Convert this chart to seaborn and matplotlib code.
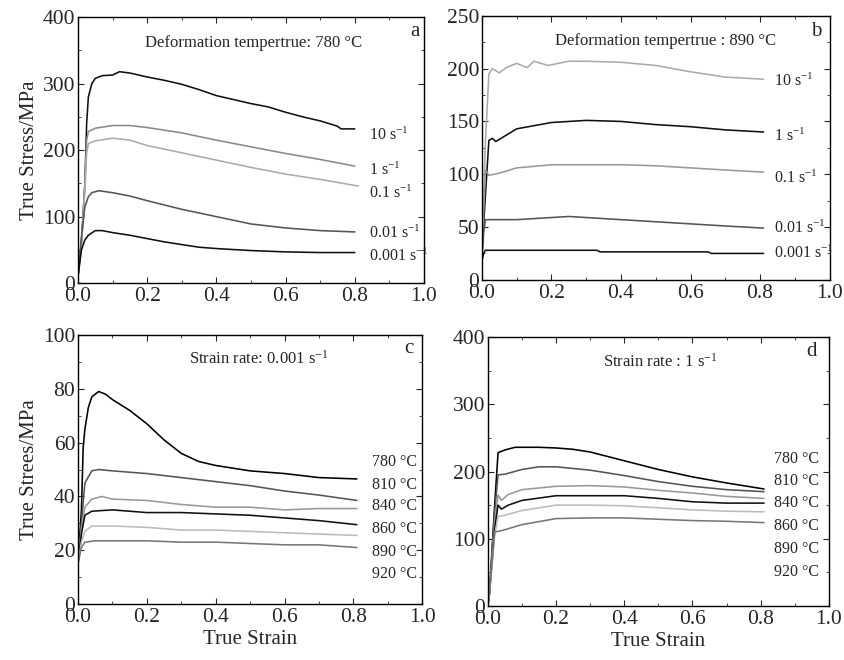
"""Flow stress curves, four panels"""

import matplotlib
matplotlib.use("Agg")

import matplotlib.pyplot as plt
import seaborn as sns
from matplotlib.ticker import MultipleLocator, FormatStrFormatter

sns.set_style("ticks")
plt.rcParams["font.family"] = ["Liberation Serif", "DejaVu Serif"]
plt.rcParams["mathtext.fontset"] = "custom"
plt.rcParams["mathtext.rm"] = "Liberation Serif"
plt.rcParams["mathtext.it"] = "Liberation Serif:italic"

# ---- panel a: 780 C, different strain rates
a_10_x = [0, 0.01, 0.02, 0.025, 0.03, 0.04, 0.05, 0.07, 0.1, 0.12, 0.15, 0.2, 0.25, 0.3, 0.35,
          0.4, 0.45, 0.5, 0.55, 0.6, 0.65, 0.7, 0.75, 0.76, 0.8]
a_10_y = [10, 60, 150, 240, 280, 300, 308, 312, 313, 318, 316, 310, 305, 299, 291,
          282, 276, 270, 265, 257, 250, 244, 236, 232, 232]
a_1_x = [0, 0.01, 0.02, 0.025, 0.03, 0.05, 0.1, 0.15, 0.2, 0.3, 0.4, 0.5, 0.6, 0.7, 0.8]
a_1_y = [10, 60, 150, 215, 228, 233, 237, 237, 234, 226, 215, 205, 195, 186, 176]
a_01_x = [0, 0.01, 0.02, 0.025, 0.03, 0.05, 0.1, 0.15, 0.2, 0.3, 0.4, 0.5, 0.6, 0.7, 0.81]
a_01_y = [10, 55, 140, 195, 210, 214, 218, 215, 207, 196, 185, 174, 164, 156, 146]
a_001_x = [0, 0.01, 0.02, 0.03, 0.04, 0.06, 0.1, 0.15, 0.2, 0.3, 0.4, 0.5, 0.6, 0.7, 0.8]
a_001_y = [10, 70, 115, 130, 136, 139, 136, 131, 124, 111, 100, 89, 83, 79, 77]
a_0001_x = [0, 0.01, 0.02, 0.03, 0.05, 0.07, 0.1, 0.15, 0.2, 0.25, 0.3, 0.35, 0.4, 0.5,
            0.6, 0.7, 0.8]
a_0001_y = [10, 50, 65, 72, 79, 79, 76, 72, 67, 62, 58, 54, 52, 49, 47, 46, 46]

# ---- panel b: 890 C, different strain rates
b_10_x = [0, 0.01, 0.02, 0.03, 0.05, 0.07, 0.1, 0.13, 0.15, 0.19, 0.25, 0.3, 0.4, 0.5,
          0.6, 0.7, 0.81]
b_10_y = [30, 130, 195, 200, 196, 201, 205, 201, 207, 203, 207, 207, 206, 203, 197, 192, 190]
b_1_x = [0, 0.01, 0.02, 0.03, 0.04, 0.06, 0.1, 0.15, 0.2, 0.3, 0.4, 0.5, 0.6, 0.7, 0.81]
b_1_y = [25, 80, 132, 134, 131, 135, 143, 146, 149, 151, 150, 147, 145, 142, 140]
b_01_x = [0, 0.01, 0.02, 0.05, 0.1, 0.2, 0.3, 0.4, 0.5, 0.6, 0.7, 0.81]
b_01_y = [25, 104, 99, 101, 106, 109, 109, 109, 108, 106, 104, 102]
b_001_x = [0, 0.005, 0.01, 0.1, 0.2, 0.25, 0.3, 0.4, 0.5, 0.6, 0.7, 0.81]
b_001_y = [20, 45, 57, 57, 59, 60, 59, 57, 55, 53, 51, 49]
b_0001_x = [0, 0.005, 0.01, 0.33, 0.34, 0.65, 0.66, 0.81]
b_0001_y = [18, 25, 28, 28, 26.5, 26.5, 25, 25]

# ---- panel c: 0.001 s-1, different temperatures
c_780_x = [0, 0.01, 0.015, 0.02, 0.03, 0.04, 0.06, 0.08, 0.1, 0.15, 0.2, 0.25, 0.3, 0.35,
           0.4, 0.45, 0.5, 0.6, 0.7, 0.81]
c_780_y = [15, 35, 58, 65, 73, 77, 79, 78, 76, 72, 67, 61, 56, 53, 51.5, 50.5, 49.5, 48.5,
           47, 46.5]
c_810_x = [0, 0.01, 0.02, 0.04, 0.06, 0.1, 0.2, 0.3, 0.4, 0.5, 0.6, 0.7, 0.81]
c_810_y = [15, 30, 45, 49.5, 50, 49.5, 48.5, 47, 45.5, 44, 42, 40.5, 38.5]
c_840_x = [0, 0.01, 0.02, 0.04, 0.07, 0.1, 0.2, 0.3, 0.4, 0.5, 0.6, 0.7, 0.81]
c_840_y = [15, 28, 36, 39, 40, 39, 38.5, 37, 36, 36, 35, 35.5, 35.5]
c_860_x = [0, 0.01, 0.02, 0.04, 0.1, 0.2, 0.3, 0.4, 0.5, 0.6, 0.7, 0.81]
c_860_y = [15, 26, 33, 34.5, 35, 34, 34, 33.5, 33, 32, 31, 29.5]
c_890_x = [0, 0.01, 0.02, 0.04, 0.1, 0.2, 0.3, 0.4, 0.5, 0.6, 0.7, 0.81]
c_890_y = [15, 23, 27, 29, 29, 28.5, 27.5, 27.5, 27, 26.5, 26, 25.5]
c_920_x = [0, 0.01, 0.02, 0.05, 0.1, 0.2, 0.3, 0.4, 0.5, 0.6, 0.7, 0.81]
c_920_y = [15, 21, 23, 23.5, 23.5, 23.5, 23, 23, 22.5, 22, 22, 21]

# ---- panel d: 1 s-1, different temperatures
d_780_x = [0, 0.005, 0.02, 0.03, 0.05, 0.08, 0.15, 0.2, 0.25, 0.3, 0.4, 0.5, 0.6, 0.7, 0.81]
d_780_y = [0, 20, 150, 228, 232, 236, 236, 235, 233, 229, 216, 203, 192, 183, 174]
d_810_x = [0, 0.005, 0.02, 0.03, 0.05, 0.1, 0.15, 0.2, 0.3, 0.4, 0.5, 0.6, 0.7, 0.81]
d_810_y = [0, 20, 140, 195, 196, 203, 207, 207, 202, 194, 185, 178, 173, 170]
d_840_x = [0, 0.005, 0.02, 0.03, 0.04, 0.06, 0.1, 0.2, 0.3, 0.4, 0.5, 0.6, 0.7, 0.81]
d_840_y = [0, 20, 125, 165, 157, 166, 173, 178, 179, 177, 172, 168, 163, 160]
d_860_x = [0, 0.005, 0.02, 0.03, 0.04, 0.06, 0.1, 0.2, 0.3, 0.4, 0.5, 0.6, 0.7, 0.81]
d_860_y = [0, 20, 115, 150, 144, 150, 157, 164, 164, 164, 160, 155, 153, 153]
d_890_x = [0, 0.005, 0.02, 0.03, 0.05, 0.1, 0.2, 0.3, 0.4, 0.5, 0.6, 0.7, 0.81]
d_890_y = [0, 20, 105, 133, 135, 142, 150, 150, 149, 146, 143, 141, 140]
d_920_x = [0, 0.005, 0.02, 0.04, 0.1, 0.2, 0.3, 0.4, 0.5, 0.6, 0.7, 0.81]
d_920_y = [0, 20, 110, 112, 121, 130, 131, 131, 129, 127, 126, 124]

rate_labels = ["10 s$^{-1}$", "1 s$^{-1}$", "0.1 s$^{-1}$", "0.01 s$^{-1}$", "0.001 s$^{-1}$"]
temp_labels = ["780 °C", "810 °C", "840 °C", "860 °C", "890 °C", "920 °C"]

a_label_y = [222, 170, 135, 75, 40]
b_label_y = [188, 136, 96, 49, 25]
c_label_y = [52.7, 44.3, 36.3, 27.8, 19.5, 11]
d_label_y = [219, 186, 152.5, 119, 85, 51]

panels = [
    dict(rect=[0.0924, 0.571, 0.41, 0.403], ymax=400, ymaj=100, letter="a",
         title="Deformation tempertrue: 780 °C", title_xy=(0.506, 361), letter_xy=(0.975, 378),
         curves=[(a_10_x, a_10_y, "#111111"), (a_1_x, a_1_y, "#8a8a8a"),
                 (a_01_x, a_01_y, "#ababab"), (a_001_x, a_001_y, "#555555"),
                 (a_0001_x, a_0001_y, "#111111")],
         labels=rate_labels, label_x=0.84, label_y=a_label_y,
         ylabel="True Stress/MPa", xlabel=None),
    dict(rect=[0.571, 0.576, 0.412, 0.400], ymax=250, ymaj=50, letter="b",
         title="Deformation tempertrue : 890 °C", title_xy=(0.528, 226), letter_xy=(0.96, 235),
         curves=[(b_10_x, b_10_y, "#aaaaaa"), (b_1_x, b_1_y, "#111111"),
                 (b_01_x, b_01_y, "#999999"), (b_001_x, b_001_y, "#555555"),
                 (b_0001_x, b_0001_y, "#111111")],
         labels=rate_labels, label_x=0.84, label_y=b_label_y,
         ylabel=None, xlabel=None),
    dict(rect=[0.0924, 0.0848, 0.408, 0.4076], ymax=100, ymaj=20, letter="c",
         title="Strain rate: 0.001 s$^{-1}$", title_xy=(0.524, 91), letter_xy=(0.96, 95),
         curves=[(c_780_x, c_780_y, "#000000"), (c_810_x, c_810_y, "#555555"),
                 (c_840_x, c_840_y, "#999999"), (c_860_x, c_860_y, "#111111"),
                 (c_890_x, c_890_y, "#bbbbbb"), (c_920_x, c_920_y, "#777777")],
         labels=temp_labels, label_x=0.853, label_y=c_label_y,
         ylabel="True Strees/MPa", xlabel="True Strain"),
    dict(rect=[0.578, 0.0818, 0.404, 0.4076], ymax=400, ymaj=100, letter="d",
         title="Strain rate : 1 s$^{-1}$", title_xy=(0.507, 363), letter_xy=(0.95, 378),
         curves=[(d_780_x, d_780_y, "#000000"), (d_810_x, d_810_y, "#555555"),
                 (d_840_x, d_840_y, "#999999"), (d_860_x, d_860_y, "#111111"),
                 (d_890_x, d_890_y, "#bbbbbb"), (d_920_x, d_920_y, "#777777")],
         labels=temp_labels, label_x=0.84, label_y=d_label_y,
         ylabel=None, xlabel="True Strain"),
]

fig = plt.figure(figsize=(8.44, 6.6), dpi=100)

for p in panels:
    ax = fig.add_axes(p["rect"])
    for xs, ys, col in p["curves"]:
        sns.lineplot(x=xs, y=ys, color=col, linewidth=1.15, ax=ax, estimator=None, sort=False)
    ax.set_xlim(0, 1.0)
    ax.set_ylim(0, p["ymax"])
    ax.xaxis.set_major_locator(MultipleLocator(0.2))
    ax.xaxis.set_minor_locator(MultipleLocator(0.1))
    ax.yaxis.set_major_locator(MultipleLocator(p["ymaj"]))
    ax.yaxis.set_minor_locator(MultipleLocator(p["ymaj"] / 2))
    ax.xaxis.set_major_formatter(FormatStrFormatter("%.1f"))
    ax.tick_params(which="both", direction="in", top=True, right=True, labelsize=15.5)
    ax.tick_params(axis="x", pad=3)
    ax.tick_params(axis="y", pad=2)
    ax.tick_params(which="major", length=4)
    ax.tick_params(which="minor", length=2.5)
    for s in ax.spines.values():
        s.set_linewidth(1.0)
        s.set_color("black")
    ax.text(p["title_xy"][0], p["title_xy"][1], p["title"], ha="center", va="center", fontsize=12)
    ax.text(p["letter_xy"][0], p["letter_xy"][1], p["letter"], ha="center", va="center", fontsize=15)
    for lab, ly in zip(p["labels"], p["label_y"]):
        ax.text(p["label_x"], ly, lab, ha="left", va="center", fontsize=11.5, clip_on=False)
    if p["ylabel"]:
        ax.set_ylabel(p["ylabel"], fontsize=15, labelpad=3)
    else:
        ax.set_ylabel("")
    if p["xlabel"]:
        ax.set_xlabel(p["xlabel"], fontsize=15, labelpad=2)
    else:
        ax.set_xlabel("")

fig.savefig("out.png", dpi=100)
